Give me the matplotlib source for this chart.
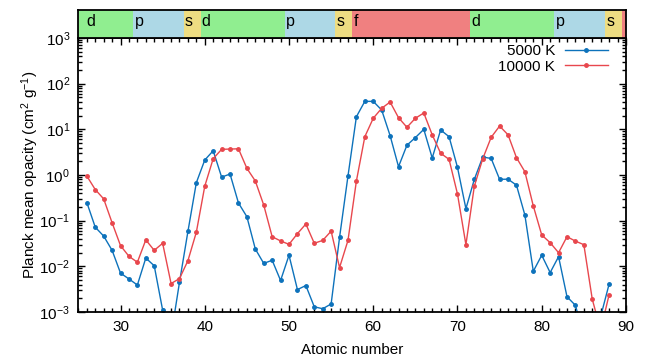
import matplotlib
matplotlib.use("Agg")
import matplotlib.pyplot as plt
from matplotlib.ticker import MultipleLocator, LogLocator, NullFormatter

plt.rcParams['font.family'] = ['Liberation Sans', 'DejaVu Sans']
plt.rcParams['mathtext.default'] = 'regular'
plt.rcParams['font.size'] = 11

# atomic numbers and Planck mean opacities (cm^2/g)
z = list(range(26, 89))
kappa_5000 = [0.25, 0.072, 0.046, 0.0224, 0.0071, 0.0053, 0.0039, 0.0152, 0.0103, 0.0011,
              0.0003, 0.0045, 0.058, 0.68, 2.13, 3.4, 0.90, 1.05, 0.244, 0.122,
              0.024, 0.0116, 0.0136, 0.0049, 0.0175, 0.0031, 0.0038, 0.0013, 0.00118, 0.0015,
              0.043, 0.95, 18.9, 41, 41, 26.5, 7.3, 1.52, 4.5, 6.6,
              10, 2.36, 9.7, 6.9, 1.47, 0.183, 0.805, 2.48, 2.3, 0.805,
              0.81, 0.60, 0.133, 0.0078, 0.0175, 0.0073, 0.0163, 0.00216, 0.0014, 0.0003,
              0.0002, 0.0008, 0.0041]
kappa_10000 = [0.95, 0.48, 0.30, 0.090, 0.0284, 0.0166, 0.0123, 0.038, 0.0224, 0.032,
               0.0042, 0.0054, 0.0133, 0.056, 0.57, 2.28, 3.65, 3.7, 3.75, 1.4,
               0.74, 0.22, 0.0446, 0.036, 0.0303, 0.052, 0.0846, 0.032, 0.037, 0.059,
               0.0094, 0.037, 0.74, 6.9, 17.5, 28.9, 39.7, 18, 11.1, 17.5,
               22.8, 7.6, 3.0, 2.2, 0.384, 0.0298, 0.57, 2.28, 6.7, 11.8,
               7.6, 2.4, 1.18, 0.21, 0.0486, 0.033, 0.0199, 0.0446, 0.0357, 0.0298,
               0.0019, 0.0004, 0.0024]

# orbital blocks shown in the top strip
block_edges = [25, 31.5, 37.5, 39.5, 49.5, 55.5, 57.5, 71.5, 81.5, 87.5, 89.5, 90]
block_labels = ['d', 'p', 's', 'd', 'p', 's', 'f', 'd', 'p', 's', 'f']
block_colors = {'s': '#eedd82', 'p': '#add8e6', 'd': '#90ee90', 'f': '#f08080'}

fig = plt.figure(figsize=(6.48, 3.61), dpi=100)
ax = fig.add_axes([0.121, 0.1357, 0.845, 0.759])
axb = fig.add_axes([0.121, 0.8947, 0.845, 0.0776])

ax.plot(z, kappa_5000, '-o', color='#0d72bb', lw=1, ms=2.5, label='5000 K')
ax.plot(z, kappa_10000, '-o', color='#e8474d', lw=1, ms=2.5, label='10000 K')

ax.set_yscale('log')
ax.set_xlim(25, 90)
ax.set_ylim(1e-3, 1e3)
ax.xaxis.set_major_locator(MultipleLocator(10))
ax.xaxis.set_minor_locator(MultipleLocator(1))
ax.yaxis.set_major_locator(LogLocator(base=10, numticks=10))
ax.yaxis.set_minor_locator(LogLocator(base=10, subs=range(2, 10), numticks=10))
ax.yaxis.set_minor_formatter(NullFormatter())
ax.tick_params(which='both', direction='in', top=True, right=True, width=1)
ax.tick_params(which='major', length=5, pad=6)
ax.tick_params(which='minor', length=3)
for s in ax.spines.values():
    s.set_linewidth(1.3)

ax.set_xlabel('Atomic number', labelpad=6)
ax.set_ylabel('Planck mean opacity (cm$^2$ g$^{-1}$)', labelpad=-1)

ax.legend(loc='upper right', bbox_to_anchor=(0.978, 1.0), frameon=False,
          markerfirst=False, handlelength=2.8, borderaxespad=0, borderpad=0.4,
          labelspacing=0.1, handletextpad=0.65)

for i, lab in enumerate(block_labels):
    x0, x1 = block_edges[i], block_edges[i + 1]
    axb.axvspan(x0, x1, color=block_colors[lab], lw=0)
    if x1 - x0 > 1:
        tx = 26 if x0 == 25 else x0 + 0.15
        axb.text(tx, 0.42, lab, ha='left', va='baseline', fontsize=11.5)
axb.set_xlim(25, 90)
axb.set_ylim(0, 1)
axb.set_xticks([])
axb.set_yticks([])
for s in axb.spines.values():
    s.set_linewidth(1.3)

fig.savefig('out.png', dpi=100)
